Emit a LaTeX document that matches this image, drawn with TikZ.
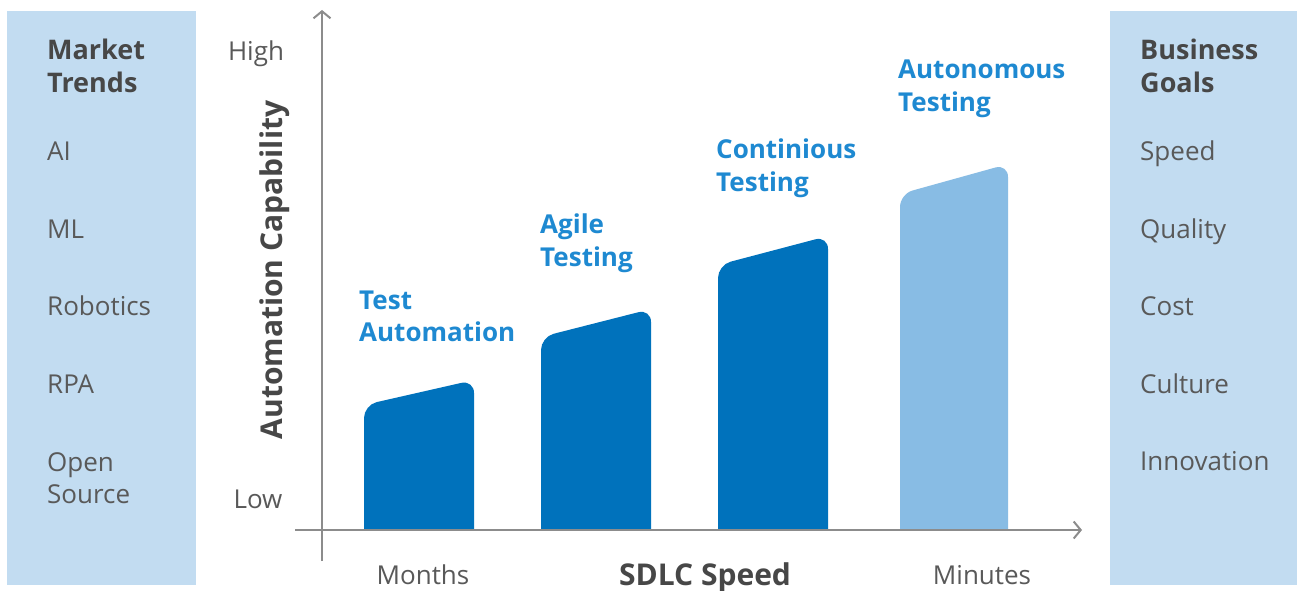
\documentclass[tikz,border=0pt]{standalone}
\usepackage{fontspec}
\setmainfont{Open Sans}
\usetikzlibrary{arrows.meta}
\definecolor{panelblue}{HTML}{C2DCF1}
\definecolor{bardark}{HTML}{0072BC}
\definecolor{barlight}{HTML}{88BCE4}
\definecolor{lblblue}{HTML}{1E89D1}
\definecolor{txtgray}{HTML}{595959}
\definecolor{headgray}{HTML}{474747}
\definecolor{axisgray}{HTML}{8C8C8C}
\tikzset{
  panel/.style={fill=panelblue,draw=none},
  item/.style={anchor=base west,inner sep=0pt,text=txtgray,font=\fontsize{26}{33}\selectfont},
  head/.style={item,text=headgray,font=\fontsize{27}{33}\selectfont\bfseries},
  barlbl/.style={anchor=base west,inner sep=0pt,text=lblblue,font=\fontsize{26}{33}\selectfont\bfseries},
  axlbl/.style={anchor=base,inner sep=0pt,text=txtgray,font=\fontsize{26}{33}\selectfont},
  axhead/.style={anchor=base,inner sep=0pt,text=headgray,font=\fontsize{30}{36}\selectfont\bfseries},
  axis/.style={draw=axisgray,line width=2pt,-{Straight Barb[length=7pt,width=17pt,line width=2pt]}},
  bar/.style={rounded corners=13pt},
}
\begin{document}
\begin{tikzpicture}[x=1pt,y=-1pt]
\useasboundingbox (0,0) rectangle (1297,591);
\fill[white] (0,0) rectangle (1297,591);
% panels
\path[panel] (7,11) rectangle (196,585);
\path[panel] (1110,11) rectangle (1297,585);
% left panel text
\node[head] (mt1) at (47,60) {Market};
\node[head] (mt2) at (47,93) {Trends};
\node[item] (ai) at (47,160) {AI};
\node[item] (ml) at (47,238) {ML};
\node[item] (rob) at (47,315) {Robotics};
\node[item] (rpa) at (47,393) {RPA};
\node[item] (os1) at (47,471) {Open};
\node[item] (os2) at (47,503) {Source};
% right panel text
\node[head] (bg1) at (1140,60) {Business};
\node[head] (bg2) at (1140,93) {Goals};
\node[item] (sp) at (1140,160) {Speed};
\node[item] (qu) at (1140,238) {Quality};
\node[item] (co) at (1140,315) {Cost};
\node[item] (cu) at (1140,393) {Culture};
\node[item] (in) at (1140,470) {Innovation};
% bars
\begin{scope}
\clip (300,0) rectangle (1100,530);
\fill[bardark,bar] (364,560) -- (364,405) -- (474,380) -- (474,560) -- cycle;
\fill[bardark,bar] (541,560) -- (541,337) -- (651,309) -- (651,560) -- cycle;
\fill[bardark,bar] (718,560) -- (718,265) -- (828,236) -- (828,560) -- cycle;
\fill[barlight,bar] (900,560) -- (900,194) -- (1008,164) -- (1008,560) -- cycle;
\end{scope}
% axes
\coordinate (ybot) at (322,561);
\coordinate (ytop) at (322,10);
\coordinate (xleft) at (295,530);
\coordinate (xright) at (1082,530);
\draw[axis] (ybot) -- (ytop);
\draw[axis] (xleft) -- (xright);
% axis labels
\node[axlbl] (high) at (256,61) {High};
\node[axlbl] (low) at (258,508) {Low};
\node[axhead,rotate=90] (ac) at (282,270) {Automation Capability};
\node[axlbl] (mon) at (423,584) {Months};
\node[axhead] (sdlc) at (705,585) {SDLC Speed};
\node[axlbl] (min) at (982,584) {Minutes};
% bar labels
\node[barlbl] (ta1) at (359,309) {Test};
\node[barlbl] (ta2) at (359,341) {Automation};
\node[barlbl] (ag1) at (540,233) {Agile};
\node[barlbl] (ag2) at (540,266) {Testing};
\node[barlbl] (ct1) at (716,158) {Continious};
\node[barlbl] (ct2) at (716,191) {Testing};
\node[barlbl] (at1) at (898,79) {Autonomous};
\node[barlbl] (at2) at (898,111) {Testing};
\end{tikzpicture}
\end{document}
